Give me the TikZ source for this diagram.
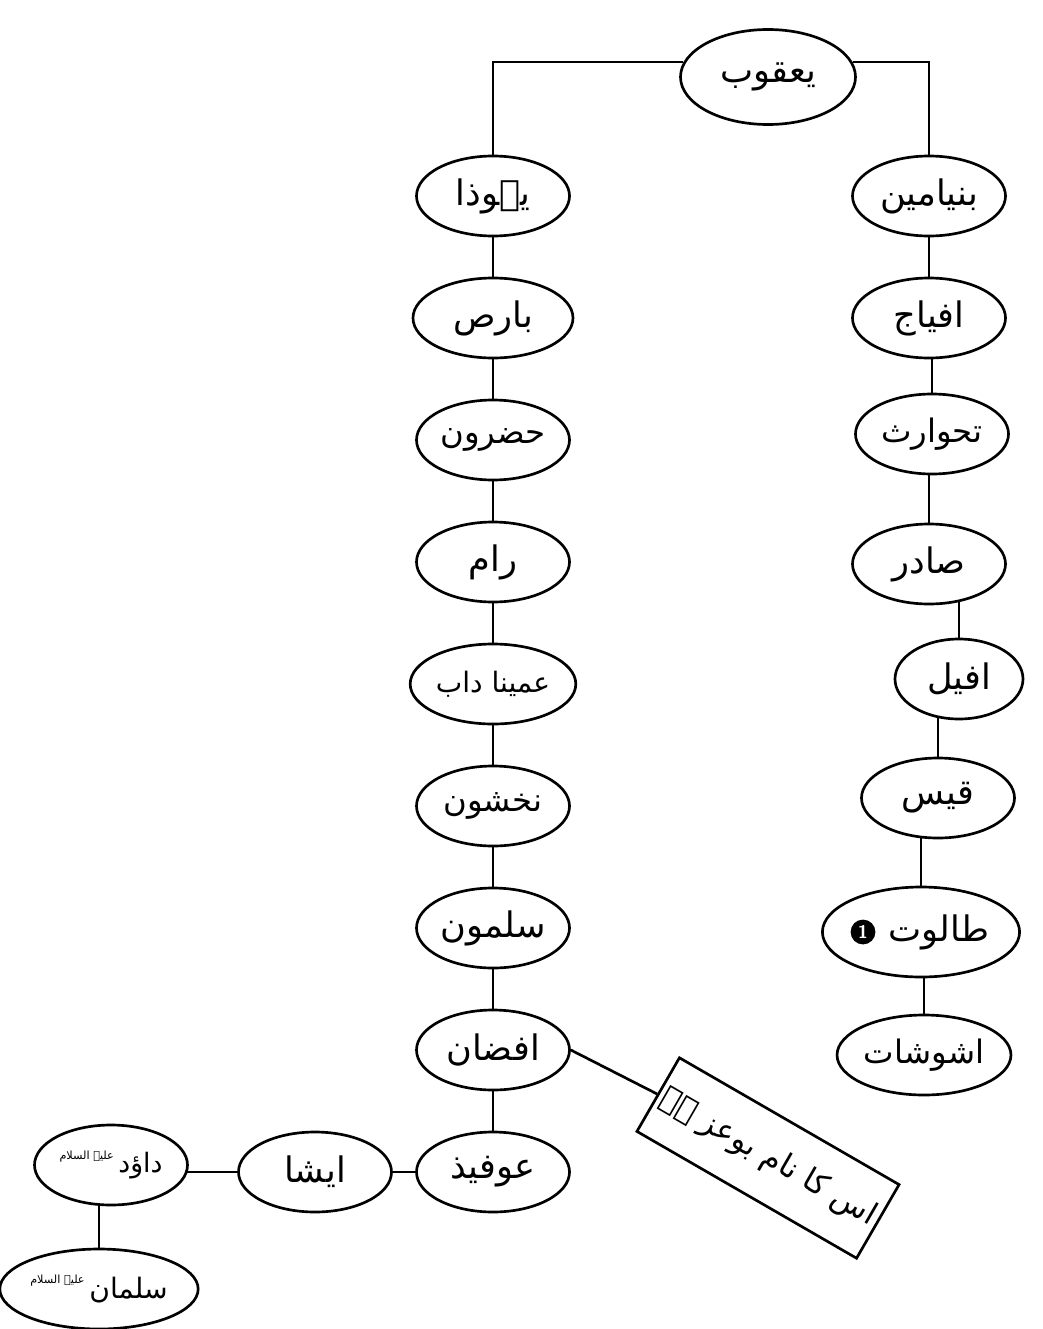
\documentclass[tikz,border=0pt]{standalone}
\usepackage{fontspec}
\usepackage{tikz}
\usetikzlibrary{positioning,shapes.geometric,backgrounds}
\TeXXeTstate=1
\newfontfamily\urdufont[Script=Arabic]{DejaVu Sans}
\newcommand{\urtext}[1]{{\urdufont\beginR #1\endR}}
\newcommand{\salam}{\raisebox{1.2ex}{\fontsize{8}{9}\selectfont\urtext{علیہ السلام}}\,}

\begin{document}
\begin{tikzpicture}[
            person/.style={draw, ellipse, line width=1.9pt, fill=white,
                minimum width=3.825cm, minimum height=2cm, inner sep=1pt,
                font=\fontsize{25}{30}\selectfont},
            link/.style={line width=1.9pt},
            on grid]
            \useasboundingbox (0,0) rectangle (26.075,-33.225);

            \node [person, minimum width=4.375cm, minimum height=2.375cm] (yaqub) at (19.2,-1.925) {\urtext{یعقوب}};

            \node [person] (yahuda) at (12.325,-4.9) {\urtext{یہوذا}};
            \node [person, minimum width=4cm, below=3.05cm of yahuda] (baris) {\urtext{بارص}};
            \node [person, below=3.05cm of baris, font=\fontsize{23}{28}\selectfont] (hasron) {\urtext{حضرون}};
            \node [person, below=3.05cm of hasron] (ram) {\urtext{رام}};
            \node [person, minimum width=4.075cm, below=3.05cm of ram, font=\fontsize{20}{24}\selectfont] (amminadab) {\urtext{عمینا داب}};
            \node [person, below=3.05cm of amminadab, font=\fontsize{23}{28}\selectfont] (nahshon) {\urtext{نخشون}};
            \node [person, below=3.05cm of nahshon] (salmon) {\urtext{سلمون}};
            \node [person, below=3.05cm of salmon] (afzan) {\urtext{افضان}};
            \node [person, below=3.05cm of afzan] (ofid) {\urtext{عوفیذ}};
            \node [person, left=4.45cm of ofid] (aisha) {\urtext{ایشا}};
            \node [person, left=5.1cm of aisha, yshift=0.175cm, font=\fontsize{19}{23}\selectfont] (dawud) {\salam\urtext{داؤد}};
            \node [person, minimum width=4.175cm, below=3.1cm of dawud, xshift=-0.3cm, font=\fontsize{20}{24}\selectfont] (sulaiman) {\salam\urtext{سلمان}};

            \node [person] (binyamin) at (23.225,-4.9) {\urtext{بنیامین}};
            \node [person, below=3.05cm of binyamin] (afiaj) {\urtext{افیاج}};
            \node [person, below=2.9cm of afiaj, xshift=0.075cm, font=\fontsize{23}{28}\selectfont] (tahwarith) {\urtext{تحوارث}};
            \node [person, below=3.25cm of tahwarith, xshift=-0.075cm] (sadir) {\urtext{صادر}};
            \node [person, minimum width=3.2cm, below=2.875cm of sadir, xshift=0.75cm] (afil) {\urtext{افیل}};
            \node [person, below=2.975cm of afil, xshift=-0.525cm] (qais) {\urtext{قیس}};
            \node [person, minimum width=4.15cm, minimum height=2.25cm, below=3.35cm of qais, xshift=-0.425cm] (talut) {\hspace{0.9cm}\urtext{طالوت}};
            \node [circle, fill=black, text=white, inner sep=0.5pt, minimum size=0.62cm,
                font=\bfseries\sffamily\fontsize{13}{13}\selectfont, left=1.45cm of talut] (talutmark) {1};
            \node [person, below=3.075cm of talut, xshift=0.075cm, font=\fontsize{23}{28}\selectfont] (ashushat) {\urtext{اشوشات}};

            \node [draw, line width=1.9pt, rotate=-30, minimum width=6.075cm, minimum height=2.125cm,
                font=\fontsize{22}{27}\selectfont] (note) at (19.2,-28.95) {\urtext{اس کا نام بوعز ہے}};

            \draw [link] (yaqub.170) -| (yahuda);
            \draw [link] (yaqub.10) -| (binyamin);
            \draw [link] (afzan.east) -- (note.west);

            \begin{scope}[on background layer]
                \foreach \a/\b in {yahuda/baris, baris/hasron, hasron/ram, ram/amminadab,
                    amminadab/nahshon, nahshon/salmon, salmon/afzan, afzan/ofid, ofid/aisha}
                    \draw [link] (\a) -- (\b);
                \foreach \a/\b in {binyamin/afiaj, afiaj/tahwarith, tahwarith/sadir, sadir/afil,
                    afil/qais, qais/talut, talut/ashushat, dawud/sulaiman}
                    \draw [link] (\b) -- (\b |- \a);
                \draw [link] (aisha) -- (aisha -| dawud);
            \end{scope}
        \end{tikzpicture}
\end{document}
